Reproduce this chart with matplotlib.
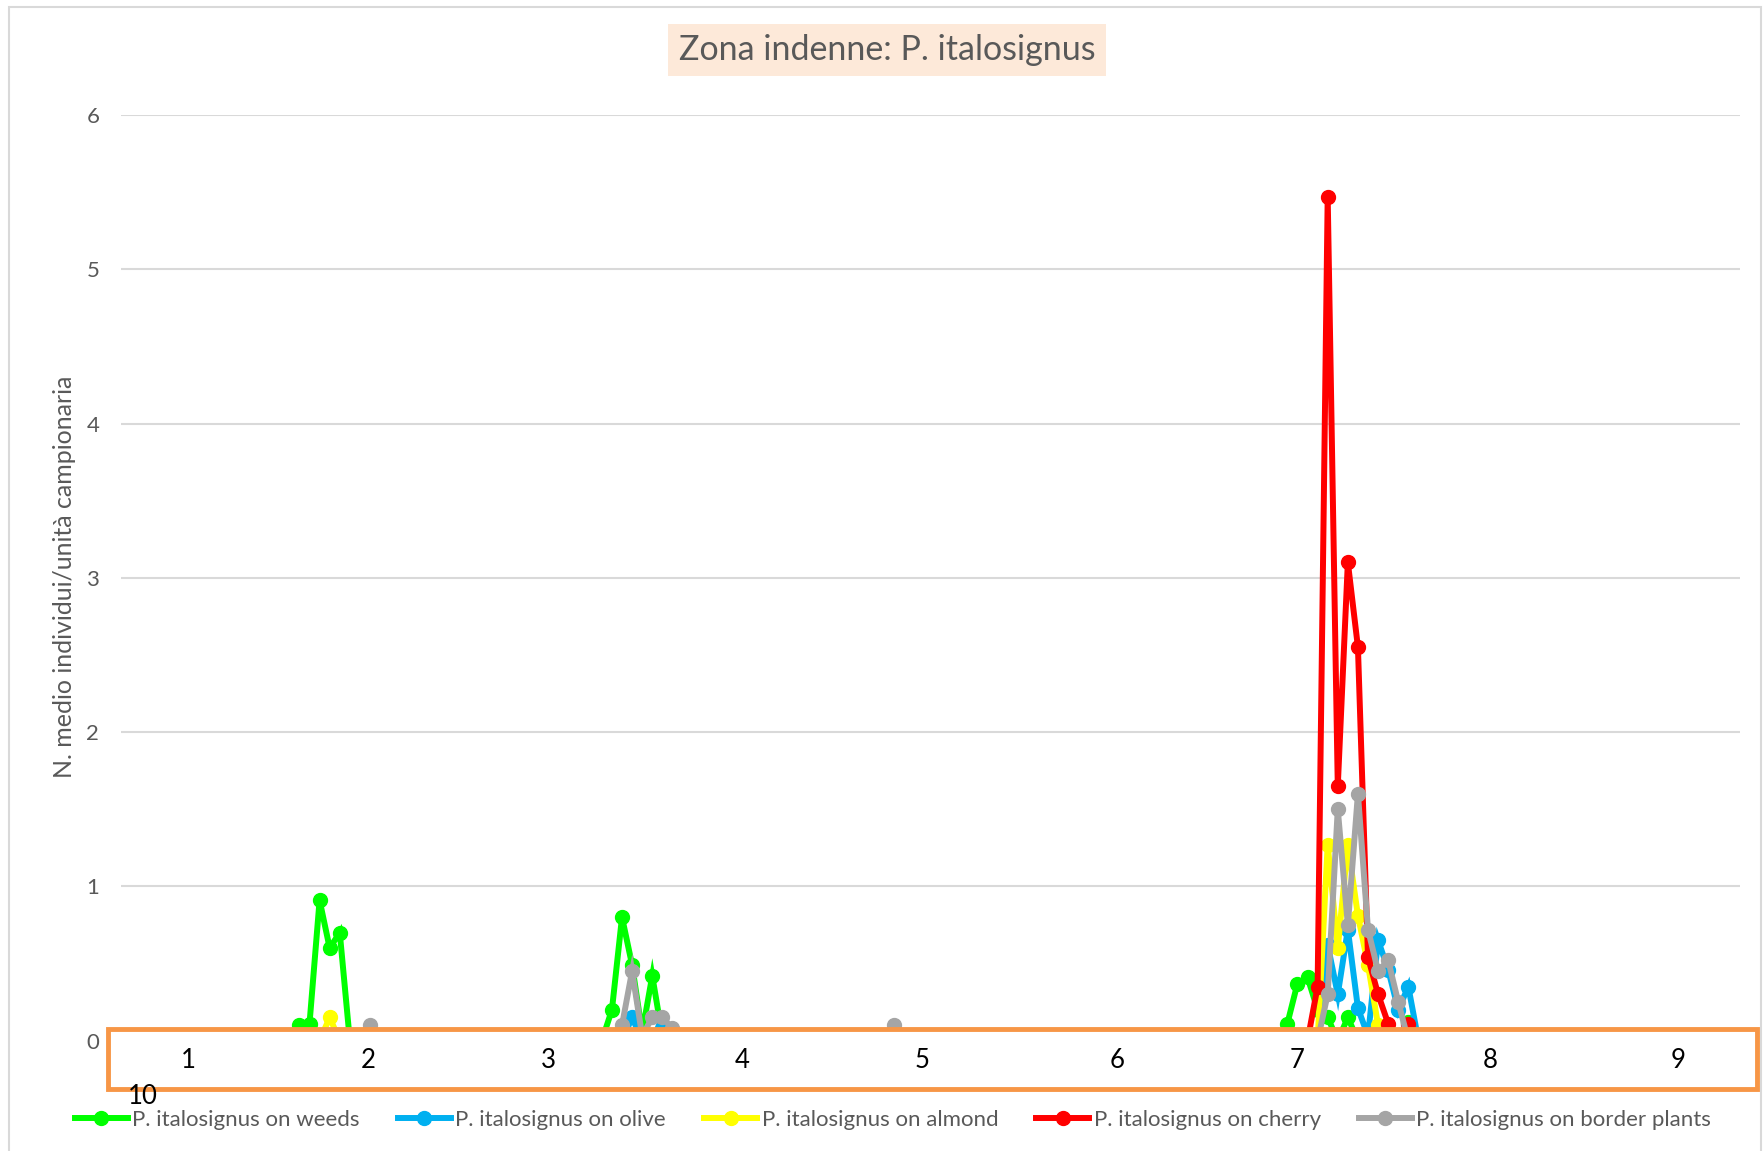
import numpy as np
import matplotlib
matplotlib.use("Agg")
import matplotlib.pyplot as plt
from matplotlib.patches import Rectangle
from matplotlib.lines import Line2D

plt.rcParams['font.family'] = ['Lato', 'DejaVu Sans']

# indice dei campionamenti (asse delle categorie)
n_campioni = 160
campioni = np.arange(n_campioni)

# valori non nulli per serie: indice campionamento -> media individui
weeds_idx = [17, 18, 19, 20, 21, 28, 30, 48, 49, 50, 51, 52, 53,
             115, 116, 117, 118, 119, 121, 127]
weeds_val = [0.10, 0.11, 0.91, 0.60, 0.70, 0.03, 0.03, 0.20, 0.80, 0.49, 0.05, 0.42, 0.03,
             0.11, 0.37, 0.41, 0.20, 0.15, 0.15, 0.12]

olive_idx = [50, 53, 119, 120, 121, 122, 123, 124, 125, 126, 127]
olive_val = [0.15, 0.08, 0.62, 0.30, 0.72, 0.21, 0.03, 0.65, 0.46, 0.20, 0.35]

almond_idx = [20, 119, 120, 121, 122, 123, 124]
almond_val = [0.15, 1.27, 0.60, 1.27, 0.81, 0.49, 0.10]

cherry_idx = [118, 119, 120, 121, 122, 123, 124, 125, 127]
cherry_val = [0.35, 5.47, 1.65, 3.10, 2.55, 0.54, 0.30, 0.11, 0.11]

border_idx = [24, 49, 50, 51, 52, 53, 54, 76,
              119, 120, 121, 122, 123, 124, 125, 126]
border_val = [0.10, 0.10, 0.45, 0.03, 0.15, 0.15, 0.08, 0.10,
              0.30, 1.50, 0.75, 1.60, 0.72, 0.45, 0.52, 0.25]

etichette_x = ["1", "2", "3", "4", "5", "6", "7", "8", "9"]
etichette_pos = [187.9, 367.9, 547.9, 742.5, 922.5, 1117, 1297, 1490.6, 1678.5]  # pixel nel riquadro

serie = [
    ("P. italosignus on weeds", weeds_idx, weeds_val, "#00FF00"),
    ("P. italosignus on olive", olive_idx, olive_val, "#00B0F0"),
    ("P. italosignus on almond", almond_idx, almond_val, "#FFFF00"),
    ("P. italosignus on cherry", cherry_idx, cherry_val, "#FF0000"),
    ("P. italosignus on border plants", border_idx, border_val, "#A5A5A5"),
]

W, H = 1764, 1151
fig = plt.figure(figsize=(W / 100, H / 100), dpi=100)
ax = fig.add_axes([121.5 / W, 1 - 1040.6 / H, (1740 - 121.5) / W, (1040.6 - 115) / H])

for nome, idx, val, col in serie:
    y = np.zeros(n_campioni)
    y[idx] = val
    ax.plot(campioni, y, color=col, lw=4.3, marker="o", ms=10, label=nome,
            solid_joinstyle="miter", clip_on=True)

ax.set_xlim(-0.65, 159.9)
ax.set_ylim(0, 6)
ax.set_yticks(range(0, 7))
ax.set_xticks([])
for s in ax.spines.values():
    s.set_visible(False)
ax.grid(axis="y", color="#D9D9D9", lw=1.5)
ax.set_axisbelow(True)
ax.tick_params(axis="y", length=0, pad=16, labelsize=16, labelcolor="#595959")

# riquadro arancione con le etichette
box = Rectangle((108 / W, 1 - 1089 / H), (1757 - 108) / W, (1089 - 1029) / H,
                transform=fig.transFigure, facecolor="white", edgecolor="#F79646",
                lw=3.5, zorder=10, clip_on=False)
fig.add_artist(box)
for lab, px in zip(etichette_x, etichette_pos):
    fig.text(px / W, 1 - 1060 / H, lab, ha="center", va="center", fontsize=18.5,
             color="black", zorder=11)
fig.text(143 / W, 1 - 1096 / H, "10", ha="center", va="center", fontsize=18.5,
         color="black", zorder=11)

# titolo
fig.text(887 / W, 1 - 50 / H, "Zona indenne: P. italosignus", ha="center", va="center",
         fontsize=24.5, color="#595959",
         bbox=dict(boxstyle="square,pad=0.3", facecolor="#FDE9D9", edgecolor="none"))

fig.text(65 / W, 1 - 577 / H, "N. medio individui/unità campionaria", rotation=90,
         ha="center", va="center", fontsize=18, color="#595959")

handles = [Line2D([0], [0], color=c, lw=4.3, marker="o", ms=10) for _, _, _, c in serie]
fig.legend(handles, [s[0] for s in serie], loc="center", bbox_to_anchor=(893 / W, 1 - 1120 / H),
           ncol=5, frameon=False, fontsize=16, handlelength=2.4, handletextpad=0.2,
           columnspacing=1.7, labelcolor="#595959")

# bordo del grafico
fig.add_artist(Rectangle((9 / W, -0.01), (1761 - 9) / W, 1.01 - 7 / H,
                         transform=fig.transFigure, facecolor="none",
                         edgecolor="#D9D9D9", lw=1.5))

fig.savefig("out.png", dpi=100)
